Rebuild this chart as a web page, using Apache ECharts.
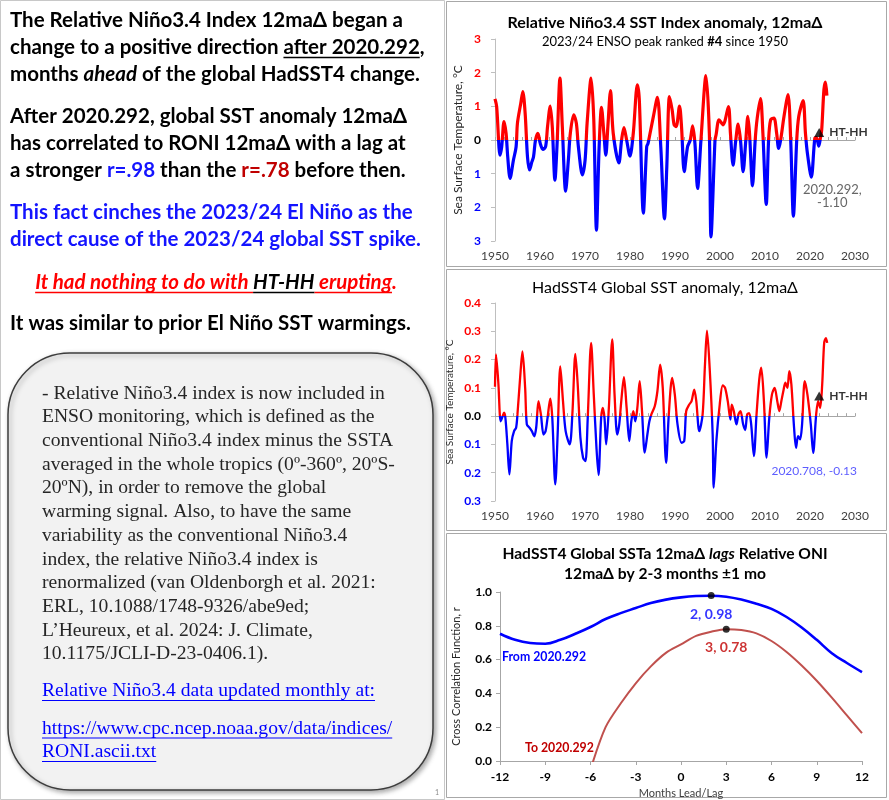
<!DOCTYPE html>
<html><head><meta charset="utf-8">
<script src="https://cdn.jsdelivr.net/npm/echarts@6/dist/echarts.min.js"></script>
<style>html,body{margin:0;padding:0;background:#fff}#c{width:889px;height:800px}</style>
</head><body><div id="c"></div>
<script>
// ---------- DATA ----------
const roniYear = [1950.0,1950.37,1951.12,1951.49,1952.01,1952.46,1952.83,1953.35,1954.09,1954.69,1954.99,1955.73,1956.18,1956.70,1957.22,1957.67,1958.19,1958.56,1959.00,1959.53,1960.05,1960.64,1961.24,1961.68,1962.28,1962.73,1963.32,1963.77,1964.44,1964.96,1965.70,1966.30,1966.74,1967.49,1968.08,1968.53,1969.42,1970.02,1970.47,1971.36,1971.95,1972.55,1973.14,1973.67,1974.19,1974.63,1975.08,1975.67,1976.27,1977.53,1978.13,1978.65,1979.25,1979.99,1980.73,1981.63,1982.07,1982.97,1983.71,1984.01,1984.46,1985.20,1986.09,1986.84,1987.66,1988.18,1988.77,1989.37,1989.81,1990.26,1991.00,1991.45,1992.05,1992.79,1993.39,1993.91,1994.43,1995.02,1995.77,1996.88,1997.63,1998.00,1998.89,1999.12,1999.79,2000.68,2001.87,2002.32,2002.91,2003.51,2004.03,2004.55,2005.14,2005.74,2006.19,2006.56,2007.23,2007.82,2008.27,2009.01,2009.53,2010.28,2010.80,2011.25,2011.99,2012.59,2013.03,2013.48,2014.22,2015.12,2015.71,2016.31,2017.05,2017.50,2018.47,2018.99,2019.43,2020.292,2021.07,2021.44,2021.95,2022.3,2022.6,2023.1,2023.45,2023.75];
const roniVal = [1.22,0.99,-0.45,-0.20,0.55,0.20,-0.50,-1.14,-0.60,-0.20,0.50,1.09,1.44,0.79,-0.50,-0.89,-0.65,-0.50,0.00,0.20,-0.10,-0.28,-0.20,0.40,1.01,0.40,-1.19,-0.20,1.84,0.40,-1.52,-0.60,0.20,0.75,0.50,-0.20,-1.04,-0.60,0.50,1.84,0.60,-2.68,-0.20,0.97,0.20,-0.45,0.40,1.47,0.20,-0.68,0.00,0.37,0.00,-0.48,0.20,1.64,1.19,-2.17,-0.20,-0.10,0.20,0.70,1.27,-0.20,-2.34,-0.79,1.29,0.89,0.45,0.40,1.01,0.40,-0.94,-0.20,0.00,0.42,-0.10,-1.44,0.00,1.91,0.20,-2.88,0.00,0.15,0.60,0.45,0.99,0.20,-0.75,0.00,0.47,0.00,-0.94,0.00,0.70,0.20,-1.36,0.00,0.65,1.23,0.20,-1.91,0.00,0.60,0.65,0.20,-0.25,0.00,0.70,1.35,0.00,-2.26,0.00,0.70,1.17,0.20,-0.40,-1.10,0.05,0.07,-0.18,0.05,0.30,1.50,1.72,1.32];

const hadYear = [1950.0,1950.22,1950.74,1951.27,1951.71,1952.01,1952.31,1952.75,1953.20,1953.72,1954.24,1954.69,1954.99,1955.58,1956.10,1956.70,1957.07,1957.67,1958.19,1958.71,1959.15,1959.67,1960.20,1960.79,1961.24,1961.68,1962.28,1962.73,1963.40,1963.92,1964.51,1965.11,1965.70,1966.60,1967.19,1967.86,1968.38,1968.98,1969.57,1970.09,1970.61,1971.36,1971.95,1972.55,1973.00,1973.59,1973.96,1974.33,1974.71,1975.30,1976.05,1976.57,1977.16,1977.61,1978.06,1978.65,1979.25,1979.84,1980.29,1980.73,1981.18,1981.63,1982.15,1982.67,1983.27,1983.86,1984.31,1984.75,1985.50,1986.09,1986.69,1987.28,1988.03,1988.62,1989.37,1989.96,1990.56,1991.45,1992.05,1992.49,1993.16,1993.68,1994.28,1994.73,1995.40,1996.14,1996.66,1997.11,1997.70,1998.37,1998.60,1999.19,1999.94,2000.61,2001.13,2001.72,2002.32,2002.61,2003.06,2003.66,2004.10,2004.55,2005.14,2005.59,2006.04,2006.48,2006.93,2007.53,2008.12,2008.72,2009.16,2009.76,2010.35,2010.95,2011.54,2012.14,2012.73,2013.18,2013.63,2014.07,2014.52,2014.97,2015.41,2015.86,2016.46,2016.90,2017.35,2017.80,2018.24,2018.84,2019.43,2020.18,2020.708,2021.37,2021.81,2022.26,2022.71,2023.15,2023.53,2023.82];
const hadVal = [0.104,0.218,0.118,-0.018,0.000,0.012,-0.006,-0.100,-0.206,-0.088,-0.053,-0.041,0.006,0.135,0.229,0.100,-0.029,-0.041,-0.053,-0.071,-0.041,0.053,0.006,-0.065,-0.053,-0.006,0.062,-0.006,-0.241,-0.065,0.176,0.053,-0.053,-0.100,0.006,0.220,0.112,-0.076,-0.147,-0.159,-0.006,0.259,0.076,-0.112,-0.208,-0.006,0.029,-0.006,-0.100,0.029,0.271,0.076,-0.065,-0.029,0.053,0.138,0.029,-0.088,-0.018,0.018,-0.018,0.029,0.124,0.018,-0.129,-0.065,-0.018,0.006,0.035,0.088,0.182,0.100,-0.165,0.006,0.135,0.076,-0.029,-0.094,-0.088,0.018,0.041,0.053,0.094,0.053,-0.053,0.006,0.182,0.302,0.171,-0.065,-0.253,-0.088,0.041,0.109,0.100,0.053,-0.012,0.041,0.018,-0.029,0.006,0.018,-0.029,-0.049,0.006,0.011,-0.029,-0.141,0.006,0.129,0.171,0.053,-0.147,-0.006,0.076,0.100,0.053,0.018,0.053,0.088,0.118,0.100,0.159,0.112,-0.041,-0.112,-0.071,-0.082,-0.029,0.124,0.076,-0.029,-0.130,0.006,0.053,0.029,0.112,0.259,0.276,0.259];

const lagMonths = [-12,-11,-10,-9,-8,-7,-6,-5,-4,-3,-2,-1,0,1,2,3,4,5,6,7,8,9,10,11,12];
const ccfFrom = [0.753,0.717,0.698,0.694,0.717,0.753,0.793,0.84,0.875,0.905,0.935,0.955,0.968,0.976,0.978,0.972,0.955,0.93,0.9,0.852,0.79,0.717,0.638,0.58,0.526];
const ccfTo = [null,null,null,null,null,null,-0.05,0.2,0.34,0.46,0.56,0.64,0.69,0.74,0.765,0.78,0.775,0.755,0.71,0.645,0.565,0.475,0.375,0.27,0.165];

const yTicks1 = [-3, 3, 1];          // min, max, step
const yTicks2 = [-0.3, 0.4, 0.1];
const yTicks3 = [0, 1, 0.2];
const xYears = [1950, 2030, 10];
const xMinorStep = 2;
const xLags = [-12, 12, 3];

const htMarkRoni = [2022.04, 0.22];
const htMarkHad = [2022.04, 0.071];
const troughRoni = [2020.292, -1.10];
const troughHad = [2020.708, -0.13];
const peakFrom = [2, 0.98];
const peakTo = [3, 0.78];

// ---------- HELPERS ----------
const F = 'Lato, "Open Sans", sans-serif';
const SERIF = '"Liberation Serif", "DejaVu Serif", serif';
const zip = (a, b) => a.map((v, i) => [v, b[i]]);
const mctx = document.createElement('canvas').getContext('2d');
function tw(t, font) { mctx.font = font; return mctx.measureText(t).width; }

const graphics = [];
function txt(x, y, text, font, fill, align) {
  graphics.push({type: 'text', x: x, y: y, z: 10, silent: true,
    style: {text: text, font: font, fill: fill, textAlign: align || 'left', align: align || 'left',
            textVerticalAlign: 'middle', verticalAlign: 'middle'}});
}
function uline(x1, x2, y, color, w) {
  graphics.push({type: 'line', z: 10, silent: true, shape: {x1: x1, y1: y, x2: x2, y2: y},
    style: {stroke: color, lineWidth: w || 1.3}});
}

// panel frames
graphics.push({type: 'rect', z: 0, silent: true, shape: {x: 0.5, y: 0.5, width: 444, height: 799}, style: {fill: '#fff', stroke: '#c8c8c8', lineWidth: 1}});
graphics.push({type: 'rect', z: 0, silent: true, shape: {x: 446.5, y: 1.5, width: 440, height: 265}, style: {fill: 'none', stroke: '#a8a8a8', lineWidth: 1}});
graphics.push({type: 'rect', z: 0, silent: true, shape: {x: 446.5, y: 269.5, width: 440, height: 261}, style: {fill: 'none', stroke: '#a8a8a8', lineWidth: 1}});
graphics.push({type: 'rect', z: 0, silent: true, shape: {x: 446.5, y: 533.5, width: 440, height: 264}, style: {fill: 'none', stroke: '#a8a8a8', lineWidth: 1}});

// ---------- LEFT PANEL TEXT ----------
const LFS = 20.5;
const BLACK = '#000000', BLUE = '#1414ff', DRED = '#c00000', RED = '#ff0000';
function lf(s) { return (s.i ? 'italic ' : '') + 'bold ' + LFS + 'px ' + F; }
const leftLines = [
  {y: 20, segs: [{t: 'The Relative Niño3.4 Index 12maΔ began a'}]},
  {y: 47, segs: [{t: 'change to a positive direction '}, {t: 'after 2020.292', u: 1}, {t: ','}]},
  {y: 74, segs: [{t: 'months '}, {t: 'ahead', i: 1}, {t: ' of the global HadSST4 change.'}]},
  {y: 116, segs: [{t: 'After 2020.292, global SST anomaly 12maΔ'}]},
  {y: 143, segs: [{t: 'has correlated to RONI 12maΔ with a lag at'}]},
  {y: 170, segs: [{t: 'a stronger '}, {t: 'r=.98', c: BLUE}, {t: ' than the '}, {t: 'r=.78', c: DRED}, {t: ' before then.'}]},
  {y: 212, segs: [{t: 'This fact cinches the 2023/24 El Niño as the', c: BLUE}]},
  {y: 239, segs: [{t: 'direct cause of the 2023/24 global SST spike.', c: BLUE}]},
  {y: 282, center: 216, segs: [{t: 'It had nothing to do with ', i: 1, u: 1, c: RED}, {t: 'HT-HH', i: 1, u: 1, c: BLACK}, {t: ' erupting', i: 1, u: 1, c: RED}, {t: '.', i: 1, c: RED}]},
  {y: 323, segs: [{t: 'It was similar to prior El Niño SST warmings.'}]}
];
leftLines.forEach(L => {
  const widths = L.segs.map(s => tw(s.t, lf(s)));
  const total = widths.reduce((a, b) => a + b, 0);
  let x = L.center ? L.center - total / 2 : 10;
  L.segs.forEach((s, k) => {
    const c = s.c || BLACK;
    txt(x, L.y, s.t, lf(s), c);
    if (s.u) uline(x, x + widths[k], L.y + 10.5, c, 1.4);
    x += widths[k];
  });
});

// rounded note box
graphics.push({type: 'rect', z: 5, silent: true, shape: {x: 8, y: 353, width: 425, height: 437, r: 62},
  style: {fill: '#f2f2f2', stroke: '#3c3c3c', lineWidth: 1.5, shadowBlur: 5, shadowColor: 'rgba(0,0,0,0.35)', shadowOffsetX: 2, shadowOffsetY: 2}});
const boxLines = [
  '- Relative Niño3.4 index is now included in',
  'ENSO monitoring, which is defined as the',
  'conventional Niño3.4 index minus the SSTA',
  'averaged in the whole tropics (0º-360º, 20ºS-',
  '20ºN), in order to remove the global',
  'warming signal. Also, to have the same',
  'variability as the conventional Niño3.4',
  'index, the relative Niño3.4 index is',
  'renormalized (van Oldenborgh et al. 2021:',
  'ERL, 10.1088/1748-9326/abe9ed;',
  'L’Heureux, et al. 2024: J. Climate,',
  '10.1175/JCLI-D-23-0406.1).'
];
const BFS = 19.6;
const bfont = BFS + 'px ' + SERIF;
boxLines.forEach((t, k) => txt(42, 393.5 + k * 23.7, t, bfont, '#262626'));
const links = [
  {t: 'Relative Niño3.4 data updated monthly at:', y: 691},
  {t: 'https://www.cpc.ncep.noaa.gov/data/indices/', y: 728.5},
  {t: 'RONI.ascii.txt', y: 752}
];
links.forEach(l => { txt(42, l.y, l.t, bfont, '#0000ff'); uline(42, 42 + tw(l.t, bfont), l.y + 9.5, '#0000ff', 1); });
txt(437, 793, '1', '7px ' + F, '#888888', 'center');

// ---------- CHART TITLES ----------
function ctext(x, y, text, font, rich) {
  graphics.push({type: 'text', x: x, y: y, z: 10, silent: true, style: {text: text, font: font, fill: '#000',
    textAlign: 'center', align: 'center', textVerticalAlign: 'middle', verticalAlign: 'middle', rich: rich}});
}
ctext(665, 23, 'Relative Niño3.4 SST Index anomaly, 12maΔ', 'bold 16px ' + F);
ctext(665, 42, '2023/24 ENSO peak ranked {b|#4} since 1950', '13px ' + F,
  {b: {font: 'bold 13px ' + F, fontWeight: 'bold', fontSize: 13, fontFamily: F, fill: '#000'}});
ctext(665, 288, 'HadSST4 Global SST anomaly, 12maΔ', '16px ' + F);
ctext(665, 554, 'HadSST4 Global SSTa 12maΔ {i|lags} Relative ONI', 'bold 15.6px ' + F,
  {i: {font: 'italic bold 15.6px ' + F, fontStyle: 'italic', fontWeight: 'bold', fontSize: 15.6, fontFamily: F, fill: '#000'}});
ctext(665, 574, '12maΔ by 2-3 months ±1 mo', 'bold 15.6px ' + F);
txt(502, 657, 'From 2020.292', 'bold 12.3px ' + F, '#0000ff');
txt(525, 748, 'To 2020.292', 'bold 12.3px ' + F, DRED);

// ---------- AXES ----------
function signedLabels(dec) {
  return {
    formatter: v => {
      const a = Math.abs(v).toFixed(dec);
      if (Math.abs(v) < 1e-9) return '{k|' + (0).toFixed(dec) + '}';
      return v > 0 ? '{r|' + a + '}' : '{b|' + a + '}';
    },
    rich: {
      r: {color: '#ff0000', fontWeight: 'bold', fontSize: 12, fontFamily: F},
      b: {color: '#0000ff', fontWeight: 'bold', fontSize: 12, fontFamily: F},
      k: {color: '#000000', fontWeight: 'bold', fontSize: 12, fontFamily: F}
    },
    margin: 14
  };
}
const gray = '#bfbfbf';
function yearAxisLabels(grid) {
  return {type: 'value', gridIndex: grid, min: xYears[0], max: xYears[1], interval: xYears[2],
    axisLine: {show: false, onZero: false}, axisTick: {show: false}, splitLine: {show: false},
    axisLabel: {color: '#404040', fontSize: 12, fontFamily: F, margin: 9, formatter: v => String(v)}};
}
function yearZeroAxis(grid) {
  return {type: 'value', gridIndex: grid, min: xYears[0], max: xYears[1], interval: xMinorStep,
    axisLine: {show: true, onZero: true, lineStyle: {color: '#a6a6a6', width: 1}},
    axisTick: {show: true, length: 3, lineStyle: {color: '#a6a6a6'}},
    axisLabel: {show: false}, splitLine: {show: false}};
}

const option = {
  animation: false,
  backgroundColor: '#ffffff',
  grid: [
    {left: 495, right: 34, top: 39, bottom: 559},
    {left: 495, right: 34, top: 303, bottom: 299},
    {left: 500, right: 27, top: 592, bottom: 39}
  ],
  xAxis: [
    yearAxisLabels(0), yearAxisLabels(1),
    {type: 'value', gridIndex: 2, min: xLags[0], max: xLags[1], interval: xLags[2],
      name: 'Months Lead/Lag', nameLocation: 'middle', nameGap: 27,
      nameTextStyle: {color: '#404040', fontSize: 11, fontFamily: F},
      axisLine: {show: true, onZero: false, lineStyle: {color: '#a6a6a6'}},
      axisTick: {show: true, length: 4, lineStyle: {color: '#a6a6a6'}},
      splitLine: {show: false},
      axisLabel: {color: '#000', fontWeight: 'bold', fontSize: 12, fontFamily: F, margin: 10}},
    yearZeroAxis(0), yearZeroAxis(1)
  ],
  yAxis: [
    {type: 'value', gridIndex: 0, min: yTicks1[0], max: yTicks1[1], interval: yTicks1[2],
      name: 'Sea Surface Temperature, °C', nameLocation: 'middle', nameGap: 31, nameRotate: 90,
      nameTextStyle: {color: '#262626', fontSize: 12, fontFamily: F},
      axisLine: {show: true, onZero: false, lineStyle: {color: gray}}, axisTick: {show: true, length: 4, lineStyle: {color: gray}},
      splitLine: {show: false}, axisLabel: signedLabels(0)},
    {type: 'value', gridIndex: 1, min: yTicks2[0], max: yTicks2[1], interval: yTicks2[2],
      name: 'Sea Surface Temperature, °C', nameLocation: 'middle', nameGap: 40, nameRotate: 90,
      nameTextStyle: {color: '#262626', fontSize: 10, fontFamily: F},
      axisLine: {show: true, onZero: false, lineStyle: {color: gray}}, axisTick: {show: true, length: 4, lineStyle: {color: gray}},
      splitLine: {show: false}, axisLabel: signedLabels(1)},
    {type: 'value', gridIndex: 2, min: yTicks3[0], max: yTicks3[1], interval: yTicks3[2],
      name: 'Cross Correlation Function, r', nameLocation: 'middle', nameGap: 38, nameRotate: 90,
      nameTextStyle: {color: '#262626', fontSize: 11, fontFamily: F},
      axisLine: {show: true, onZero: false, lineStyle: {color: '#a6a6a6'}}, axisTick: {show: true, length: 4, lineStyle: {color: '#a6a6a6'}},
      splitLine: {show: false},
      axisLabel: {color: '#000', fontWeight: 'bold', fontSize: 12, fontFamily: F, margin: 8, formatter: v => v.toFixed(1)}}
  ],
  visualMap: [{type: 'piecewise', show: false, seriesIndex: [0, 1], dimension: 1,
    pieces: [{gte: -10, lt: 0, color: '#0000ff'}, {gte: 0, lte: 10, color: '#ff0000'}],
    outOfRange: {color: '#999999'}}],
  graphic: {elements: graphics},
  series: [
    {type: 'line', xAxisIndex: 0, yAxisIndex: 0, data: zip(roniYear, roniVal), smooth: 0.3,
      showSymbol: false, lineStyle: {width: 3.2}, z: 3},
    {type: 'line', xAxisIndex: 1, yAxisIndex: 1, data: zip(hadYear, hadVal), smooth: 0.3,
      showSymbol: false, lineStyle: {width: 2.3}, z: 3},
    {type: 'scatter', xAxisIndex: 0, yAxisIndex: 0, data: [htMarkRoni], symbol: 'triangle', symbolSize: [10, 9],
      itemStyle: {color: '#000'}, z: 5,
      label: {show: true, position: 'right', distance: 5, formatter: 'HT-HH', color: '#000', fontWeight: 'bold', fontSize: 12, fontFamily: F}},
    {type: 'scatter', xAxisIndex: 1, yAxisIndex: 1, data: [htMarkHad], symbol: 'triangle', symbolSize: [10, 9],
      itemStyle: {color: '#000'}, z: 5,
      label: {show: true, position: 'right', distance: 5, formatter: 'HT-HH', color: '#000', fontWeight: 'bold', fontSize: 12, fontFamily: F}},
    {type: 'scatter', xAxisIndex: 0, yAxisIndex: 0, data: [troughRoni], symbolSize: 1, itemStyle: {color: 'rgba(0,0,0,0)'}, z: 5,
      label: {show: true, position: 'inside', offset: [21, 19], align: 'center', lineHeight: 13,
        formatter: p => p.value[0].toFixed(3) + ',\n' + p.value[1].toFixed(2), color: '#404040', fontSize: 13, fontFamily: F}},
    {type: 'scatter', xAxisIndex: 1, yAxisIndex: 1, data: [troughHad], symbolSize: 1, itemStyle: {color: 'rgba(0,0,0,0)'}, z: 5,
      label: {show: true, position: 'inside', offset: [1, 18], align: 'center',
        formatter: p => p.value[0].toFixed(3) + ', ' + p.value[1].toFixed(2), color: '#3333ff', fontSize: 12, fontFamily: F}},
    {type: 'line', xAxisIndex: 2, yAxisIndex: 2, data: zip(lagMonths, ccfFrom), smooth: 0.4, showSymbol: false,
      lineStyle: {color: '#0000ff', width: 2.6}, itemStyle: {color: '#0000ff'}, z: 3},
    {type: 'line', xAxisIndex: 2, yAxisIndex: 2, data: zip(lagMonths, ccfTo), smooth: 0.3, showSymbol: false, clip: true,
      lineStyle: {color: '#c0504d', width: 2}, itemStyle: {color: '#c0504d'}, z: 3},
    {type: 'scatter', xAxisIndex: 2, yAxisIndex: 2, data: [peakFrom], symbolSize: 7, itemStyle: {color: '#000'}, z: 5,
      label: {show: true, position: 'bottom', distance: 9, formatter: p => p.value[0] + ', ' + p.value[1].toFixed(2),
        color: '#0000ff', fontWeight: 'bold', fontSize: 14, fontFamily: F}},
    {type: 'scatter', xAxisIndex: 2, yAxisIndex: 2, data: [peakTo], symbolSize: 7, itemStyle: {color: '#000'}, z: 5,
      label: {show: true, position: 'bottom', distance: 8, formatter: p => p.value[0] + ', ' + p.value[1].toFixed(2),
        color: DRED, fontWeight: 'bold', fontSize: 14, fontFamily: F}}
  ]
};
const chart = echarts.init(document.getElementById('c'));
chart.setOption(option);
</script>
</body></html>
